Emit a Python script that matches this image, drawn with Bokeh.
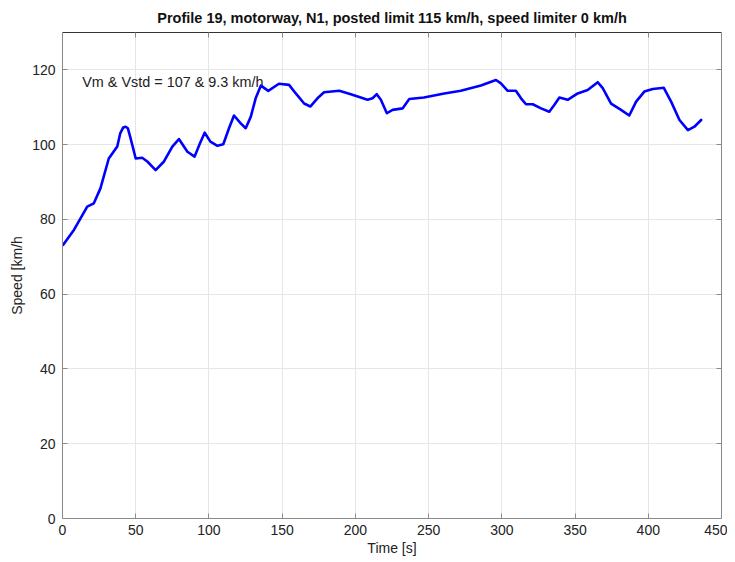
from bokeh.plotting import figure
from bokeh.models import LinearAxis, FixedTicker, Range1d, Grid
from bokeh.core.properties import value
from bokeh.embed import file_html
from bokeh.resources import INLINE

title = "Profile 19, motorway, N1, posted limit 115 km/h, speed limiter 0 km/h"
x_label = "Time [s]"
y_label = "Speed [km/h"
annotation = "Vm & Vstd = 107 & 9.3 km/h"
annotation_x = [13.5]
annotation_y = [116.8]

x_ticks = [0, 50, 100, 150, 200, 250, 300, 350, 400, 450]
y_ticks = [0, 20, 40, 60, 80, 100, 120]

time_s = [0.5, 7.8, 16.9, 21.4, 25.9, 31.6, 37.4, 39.4, 41.5, 43.1, 44.6, 46.5, 50, 54.4, 57.9,
          63.6, 69.3, 75, 79.5, 85.3, 90.2, 93.8, 97.1, 101, 105.8, 109.8, 113.7, 117.1, 121.7,
          125.1, 128.6, 131.9, 135.5, 140.5, 147.8, 154.7, 159.3, 165, 169.2, 174.1, 178.6, 189,
          196.9, 208.3, 211.7, 214.6, 217.4, 221.5, 225.4, 232.2, 236.8, 246.8, 260.7, 272, 285.7,
          296, 299.4, 304, 309.6, 313.1, 316.5, 321.1, 326.8, 332.4, 335.8, 339.3, 345, 351.8,
          358.6, 365.5, 368.9, 374.6, 381.4, 387, 391.7, 397.3, 403.1, 410.6, 415.6, 421.3, 427.1,
          431.5, 436.1]
speed_kmh = [73.2, 77.2, 83.4, 84.3, 88.3, 96.3, 99.5, 103.0, 104.6, 104.8, 104.4, 101.7, 96.3,
             96.5, 95.5, 93.2, 95.5, 99.5, 101.5, 98.1, 96.8, 100.3, 103.2, 100.8, 99.7, 100.1,
             104.4, 107.8, 105.7, 104.4, 107.5, 112.4, 115.8, 114.4, 116.3, 116, 113.7, 111, 110.2,
             112.4, 114, 114.4, 113.5, 112, 112.4, 113.5, 112, 108.4, 109.3, 109.7, 112.2, 112.6,
             113.7, 114.4, 115.8, 117.3, 116.4, 114.4, 114.4, 112.4, 110.8, 110.8, 109.7, 108.8,
             110.6, 112.6, 112, 113.7, 114.6, 116.7, 115.1, 111, 109.3, 107.8, 111.5, 114.2, 114.9,
             115.2, 111.5, 106.6, 103.9, 104.8, 106.6]

FONT = "Liberation Sans"
AXIS_COLOR = "#8a8a8a"
TOP_COLOR = "#333333"
FS = "14px"

p = figure(frame_width=659, frame_height=486,
           x_range=Range1d(0, 450), y_range=Range1d(0, 130),
           output_backend="svg", toolbar_location=None,
           x_axis_location=None, y_axis_location=None,
           min_border_left=62, min_border_right=6, min_border_top=31, min_border_bottom=36)

p.title.text = title
p.title.align = "center"
p.title.text_font = FONT
p.title.text_font_size = "14.5px"
p.title.text_font_style = "bold"
p.title.text_color = "#111111"
p.title.offset = 0
p.title.standoff = 14


def make_axis(ticks, labels=True, label_text=None, color=AXIS_COLOR):
    ax = LinearAxis(ticker=FixedTicker(ticks=ticks))
    ax.major_tick_in = 5
    ax.major_tick_out = 0
    ax.minor_tick_line_color = None
    ax.axis_line_color = color
    ax.major_tick_line_color = AXIS_COLOR
    ax.major_label_text_font = FONT
    ax.major_label_text_font_size = FS
    ax.major_label_text_color = "#222222" if labels else None
    if label_text:
        ax.axis_label = label_text
        ax.axis_label_text_font = FONT
        ax.axis_label_text_font_size = FS
        ax.axis_label_text_font_style = "normal"
        ax.axis_label_text_color = "#222222"
    return ax


bottom = make_axis(x_ticks, True, x_label)
bottom.major_label_standoff = 6
bottom.axis_label_standoff = 2
left = make_axis(y_ticks, True, y_label)
left.major_label_standoff = 7
left.axis_label_standoff = 4
top = make_axis(x_ticks, False, color=TOP_COLOR)
top.major_label_text_font_size = "0px"
top.major_label_standoff = 0
right = make_axis(y_ticks, False)
right.major_label_text_font_size = "0px"
right.major_label_standoff = 0

p.add_layout(bottom, "below")
p.add_layout(left, "left")
p.add_layout(top, "above")
p.add_layout(right, "right")

p.xgrid.visible = False
p.ygrid.visible = False
p.add_layout(Grid(dimension=0, ticker=bottom.ticker, grid_line_color="#e6e6e6", grid_line_width=1))
p.add_layout(Grid(dimension=1, ticker=left.ticker, grid_line_color="#e6e6e6", grid_line_width=1))

p.outline_line_color = None

p.text(x=annotation_x, y=annotation_y, text=[annotation], text_font=value(FONT),
       text_font_size="14.4px", text_baseline="middle", text_align="left", text_color="#222222")

p.line(time_s, speed_kmh, line_color="#0000ff", line_width=2.6, line_join="round", line_cap="round")

p.background_fill_color = "white"
p.border_fill_color = "white"

open("out.html", "w").write(file_html(p, INLINE))
